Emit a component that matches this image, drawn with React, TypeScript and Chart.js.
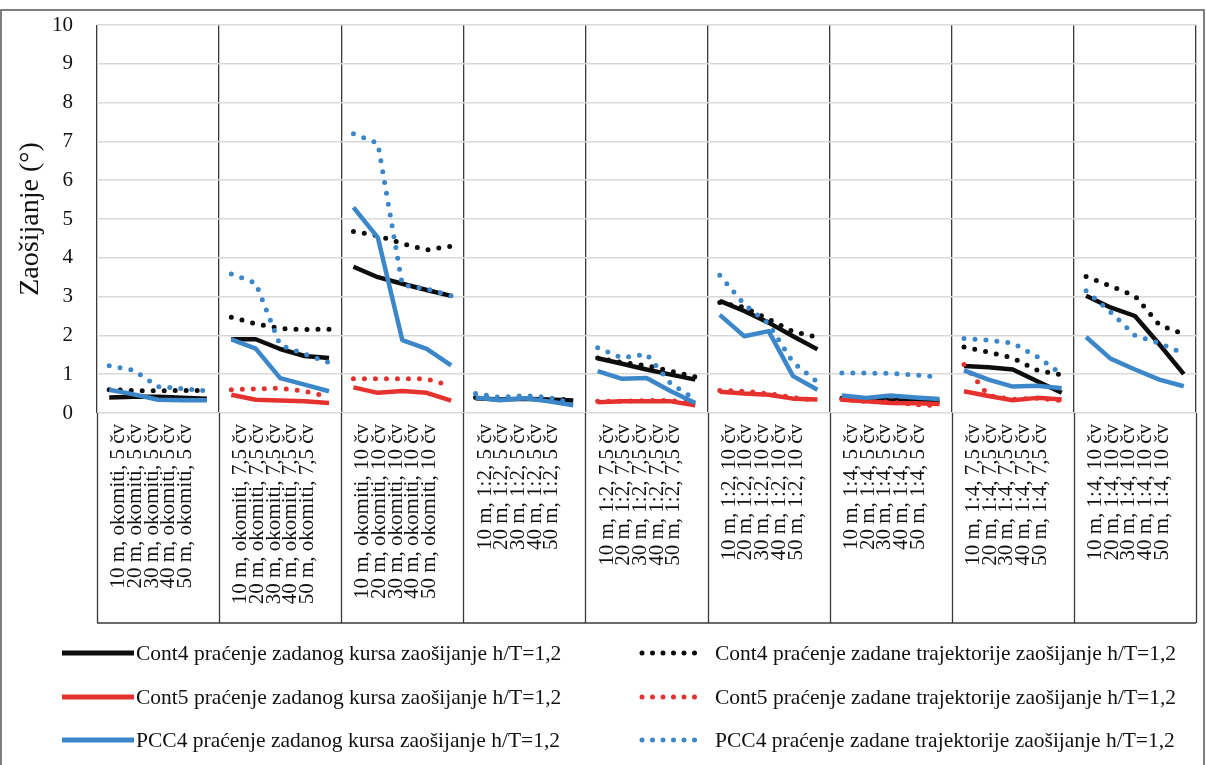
import React, { useEffect, useRef } from 'react';
import { Chart, registerables } from 'chart.js';
Chart.register(...registerables);

const distances = ['10 m', '20 m', '30 m', '40 m', '50 m'];
const groups = [
  'okomiti, 5 čv', 'okomiti, 7,5 čv', 'okomiti, 10 čv',
  '1:2, 5 čv', '1:2, 7,5 čv', '1:2, 10 čv',
  '1:4, 5 čv', '1:4, 7,5 čv', '1:4, 10 čv',
];
const yTicks = [0, 1, 2, 3, 4, 5, 6, 7, 8, 9, 10];

const cont4Kurs = [
  0.4, 0.42, 0.42, 0.39, 0.37,
  1.9, 1.9, 1.65, 1.47, 1.42,
  3.77, 3.5, 3.33, 3.17, 3.02,
  0.38, 0.35, 0.37, 0.35, 0.32,
  1.41, 1.27, 1.12, 0.99, 0.86,
  2.89, 2.63, 2.33, 1.98, 1.64,
  0.36, 0.34, 0.32, 0.32, 0.3,
  1.21, 1.18, 1.12, 0.82, 0.52,
  3.02, 2.72, 2.5, 1.77, 1.0,
];
const cont4Traj = [
  0.6, 0.58, 0.57, 0.58, 0.58,
  2.47, 2.3, 2.18, 2.15, 2.16,
  4.68, 4.57, 4.37, 4.2, 4.3,
  0.4, 0.37, 0.38, 0.36, 0.34,
  1.42, 1.3, 1.22, 1.08, 0.93,
  2.85, 2.72, 2.42, 2.1, 1.95,
  0.38, 0.36, 0.35, 0.33, 0.33,
  1.7, 1.57, 1.42, 1.1, 0.98,
  3.52, 3.27, 3.02, 2.27, 2.03,
];
const cont5Kurs = [
  null, null, null, null, null,
  0.47, 0.34, 0.32, 0.3, 0.26,
  0.66, 0.52, 0.57, 0.52, 0.32,
  null, null, null, null, null,
  0.28, 0.3, 0.3, 0.3, 0.2,
  0.55, 0.5, 0.47, 0.37, 0.35,
  0.34, 0.3, 0.26, 0.25, 0.23,
  0.56, 0.44, 0.33, 0.39, 0.35,
  null, null, null, null, null,
];
const cont5Traj = [
  null, null, null, null, null,
  0.6, 0.62, 0.64, 0.56, 0.42,
  0.88, 0.88, 0.88, 0.88, 0.7,
  null, null, null, null, null,
  0.3, 0.3, 0.32, 0.32, 0.25,
  0.58, 0.56, 0.5, 0.4, 0.32,
  0.35, 0.3, 0.28, 0.22, 0.19,
  1.25, 0.45, 0.35, 0.38, 0.32,
  null, null, null, null, null,
];
const pcc4Kurs = [
  0.6, 0.48, 0.34, 0.33, 0.33,
  1.9, 1.66, 0.9, 0.73, 0.56,
  5.3, 4.52, 1.88, 1.65, 1.23,
  0.4, 0.33, 0.38, 0.3, 0.2,
  1.08, 0.88, 0.9, 0.56, 0.26,
  2.53, 1.98, 2.11, 0.95, 0.6,
  0.45, 0.39, 0.45, 0.4, 0.36,
  1.1, 0.86, 0.68, 0.7, 0.64,
  1.96, 1.4, 1.12, 0.86, 0.69,
];
const pcc4Traj = [
  1.22, 1.1, 0.68, 0.63, 0.57,
  3.58, 3.35, 1.75, 1.52, 1.3,
  7.2, 6.95, 3.3, 3.2, 3.02,
  0.5, 0.4, 0.45, 0.4, 0.25,
  1.68, 1.42, 1.52, 0.75, 0.35,
  3.55, 2.8, 2.3, 1.3, 0.8,
  1.03, 1.03, 1.02, 0.98, 0.92,
  1.92, 1.88, 1.8, 1.45, 1.0,
  3.15, 2.6, 2.0, 1.8, 1.53,
];

const seriesNames = [
  'Cont4 praćenje zadanog kursa zaošijanje h/T=1,2',
  'Cont4 praćenje zadane trajektorije zaošijanje h/T=1,2',
  'Cont5 praćenje zadanog kursa zaošijanje h/T=1,2',
  'Cont5 praćenje zadane trajektorije zaošijanje h/T=1,2',
  'PCC4 praćenje zadanog kursa zaošijanje h/T=1,2',
  'PCC4 praćenje zadane trajektorije zaošijanje h/T=1,2',
];
const seriesData = [cont4Kurs, cont4Traj, cont5Kurs, cont5Traj, pcc4Kurs, pcc4Traj];
const BLACK = '#0d0d0d';
const RED = '#e5322f';
const BLUE = '#3b87c9';
const seriesColors = [BLACK, BLACK, RED, RED, BLUE, BLUE];
const seriesDotted = [false, true, false, true, false, true];

const FONT = "'Liberation Serif', 'Times New Roman', serif";
const groupLabels = groups.map((g) => distances.map((d) => `${d}, ${g}`));
const pointLabels = groupLabels.flat();
const LABEL_LH = 16.7;

const framePlugin = {
  id: 'frame',
  beforeDraw(chart: any) {
    const { ctx } = chart;
    ctx.save();
    ctx.fillStyle = '#ffffff';
    ctx.fillRect(0, 0, chart.width, chart.height);
    ctx.strokeStyle = '#555555';
    ctx.lineWidth = 1.5;
    ctx.strokeRect(1, 10, chart.width - 3, chart.height + 20);
    ctx.restore();
  },
  afterDraw(chart: any) {
    const { ctx, chartArea } = chart;
    const xs = chart.scales.x;
    const bottom = xs.bottom;
    ctx.save();
    ctx.strokeStyle = '#3a3a3a';
    ctx.lineWidth = 1.3;
    const n = groups.length;
    const w = (chartArea.right - chartArea.left) / n;
    for (let i = 0; i <= n; i++) {
      const x = Math.round(chartArea.left + i * w) + 0.5;
      ctx.beginPath();
      ctx.moveTo(x, chartArea.bottom);
      ctx.lineTo(x, bottom);
      ctx.stroke();
    }
    ctx.beginPath();
    ctx.moveTo(chartArea.left, bottom);
    ctx.lineTo(chartArea.right, bottom);
    ctx.stroke();

    // legend
    const rows = [653, 697, 740];
    ctx.font = `21.5px ${FONT}`;
    ctx.textBaseline = 'middle';
    ctx.textAlign = 'left';
    for (let i = 0; i < seriesNames.length; i++) {
      const row = Math.floor(i / 2);
      const col = i % 2;
      const y = rows[row];
      ctx.strokeStyle = seriesColors[i];
      ctx.lineWidth = 5;
      if (seriesDotted[i]) {
        ctx.lineCap = 'round';
        ctx.setLineDash([0, 10.5]);
        ctx.beginPath();
        ctx.moveTo(642, y);
        ctx.lineTo(700, y);
        ctx.stroke();
        ctx.setLineDash([]);
      } else {
        ctx.lineCap = 'butt';
        ctx.beginPath();
        ctx.moveTo(62, y);
        ctx.lineTo(134, y);
        ctx.stroke();
      }
      ctx.fillStyle = '#111111';
      ctx.fillText(seriesNames[i], col === 0 ? 136 : 715, y + 1);
    }
    ctx.restore();
  },
};

export default function App() {
  const ref = useRef<HTMLCanvasElement>(null);
  useEffect(() => {
    document.body.style.margin = '0';
    const datasets = seriesData.map((d, i) => ({
      label: seriesNames[i],
      data: d,
      xAxisID: 'xd',
      borderColor: seriesColors[i],
      backgroundColor: seriesColors[i],
      borderWidth: seriesDotted[i] ? 5 : 4.5,
      borderDash: seriesDotted[i] ? [0, 11] : [],
      borderCapStyle: seriesDotted[i] ? 'round' : 'butt',
      borderJoinStyle: 'round',
      pointRadius: 0,
      pointHoverRadius: 0,
      tension: 0,
      spanGaps: false,
      order: 6 - i,
      segment: {
        borderColor: (c: any) => (c.p0DataIndex % distances.length === distances.length - 1 ? 'rgba(0,0,0,0)' : undefined),
      },
    }));
    const chart = new Chart(ref.current!, {
      type: 'line',
      data: { labels: pointLabels, datasets },
      plugins: [framePlugin],
      options: {
        animation: false,
        responsive: false,
        maintainAspectRatio: false,
        layout: { padding: { left: 0, right: 10, top: 25, bottom: 142 } },
        plugins: { legend: { display: false }, tooltip: { enabled: false } },
        scales: {
          xd: {
            type: 'category',
            display: false,
            offset: true,
          },
          x: {
            type: 'category',
            labels: groupLabels as any,
            position: 'bottom',
            offset: true,
            grid: { display: true, offset: true, color: '#3a3a3a', lineWidth: 1.3, drawTicks: false },
            border: { display: false },
            ticks: {
              autoSkip: false,
              maxRotation: 90,
              minRotation: 90,
              padding: 11,
              labelOffset: -2 * LABEL_LH - 6,
              color: '#111111',
              font: { family: FONT, size: 21, lineHeight: `${LABEL_LH}px` as any },
            },
            afterFit: (s: any) => {
              s.height = 210;
              s.paddingLeft = 0;
              s.paddingRight = 0;
              s.paddingTop = 0;
              s.paddingBottom = 0;
            },
          },
          y: {
            min: 0,
            max: 10,
            afterBuildTicks: (s: any) => { s.ticks = yTicks.map((v) => ({ value: v })); },
            grid: { color: '#d9d9d9', lineWidth: 1.5, drawTicks: false },
            border: { display: false },
            ticks: {
              padding: 24,
              color: '#111111',
              font: { family: FONT, size: 21 },
            },
            title: {
              display: true,
              text: 'Zaošijanje (°)',
              color: '#111111',
              font: { family: FONT, size: 28 },
              padding: { top: 14, bottom: 0 },
            },
            afterFit: (s: any) => {
              s.width = 97;
              s.paddingTop = 0;
              s.paddingBottom = 0;
              s.paddingLeft = 0;
              s.paddingRight = 0;
            },
          },
        },
      },
    });
    return () => chart.destroy();
  }, []);
  return (
    <div style={{ position: 'relative', width: 1206, height: 765 }}>
      <canvas ref={ref} width={1206} height={765} style={{ display: 'block' }} />
    </div>
  );
}
